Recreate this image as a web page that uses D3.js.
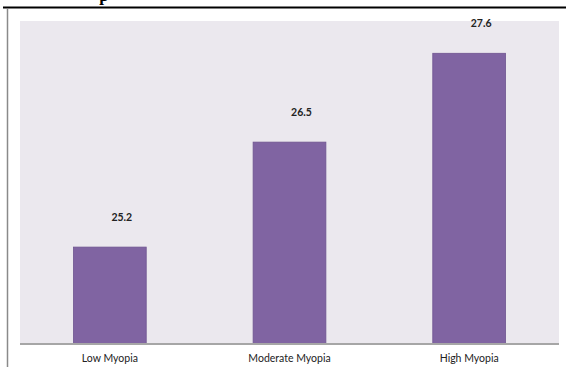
<!DOCTYPE html>
<html>
<head>
<meta charset="utf-8">
<script src="https://cdn.jsdelivr.net/npm/d3@7"></script>
<style>
  html, body { margin: 0; padding: 0; background: #fff; }
  svg { display: block; }
</style>
</head>
<body>
<svg id="chart" width="566" height="367"></svg>
<script>
const categories = ["Low Myopia", "Moderate Myopia", "High Myopia"];
const values = [25.2, 26.5, 27.6];
const valueLabels = ["25.2", "26.5", "27.6"];
const yDomain = [24, 28];
const titleFragment = "p";

const W = 566, H = 367;
const plot = { left: 20, right: 559, top: 21, bottom: 344 };

const svg = d3.select("#chart");

// page furniture: top rule, title descender, left rule
svg.append("text")
  .attr("x", 104).attr("y", 1)
  .attr("text-anchor", "middle")
  .attr("font-family", "Liberation Serif, serif")
  .attr("font-weight", "bold")
  .attr("font-size", 17)
  .attr("fill", "#000")
  .text(titleFragment);

svg.append("line")
  .attr("x1", 3).attr("x2", W).attr("y1", 7.5).attr("y2", 7.5)
  .attr("stroke", "#000").attr("stroke-width", 2);

svg.append("line")
  .attr("x1", 7.5).attr("x2", 7.5).attr("y1", 9).attr("y2", H)
  .attr("stroke", "#8a8a8a").attr("stroke-width", 1.5);

// plot background
svg.append("rect")
  .attr("x", plot.left).attr("y", plot.top)
  .attr("width", plot.right - plot.left)
  .attr("height", plot.bottom - plot.top)
  .attr("fill", "#ebe8ee");

const x = d3.scaleBand()
  .domain(categories)
  .range([plot.left, plot.right])
  .paddingInner(0.595)
  .paddingOuter(0.2975);

const y = d3.scaleLinear()
  .domain(yDomain)
  .range([plot.bottom, plot.top]);

const data = categories.map((c, i) => ({ c, v: values[i], label: valueLabels[i] }));

svg.append("g").selectAll("rect")
  .data(data)
  .join("rect")
  .attr("x", d => x(d.c))
  .attr("y", d => y(d.v))
  .attr("width", x.bandwidth())
  .attr("height", d => y(yDomain[0]) - y(d.v))
  .attr("fill", "#8064a2")
  .attr("stroke", "#6f5590")
  .attr("stroke-width", 0.8);

svg.append("g").selectAll("text")
  .data(data)
  .join("text")
  .attr("x", d => x(d.c) + x.bandwidth() / 2 + 12)
  .attr("y", d => y(d.v) - 26)
  .attr("text-anchor", "middle")
  .attr("font-family", "Lato, 'Open Sans', sans-serif")
  .attr("font-weight", "bold")
  .attr("font-size", 10.5)
  .attr("fill", "#222")
  .text(d => d.label);

// x axis
const xAxis = d3.axisBottom(x).tickSize(0).tickPadding(11);
const gx = svg.append("g")
  .attr("transform", `translate(0,${plot.bottom})`)
  .call(xAxis);
gx.select(".domain")
  .attr("stroke", "#a6a6a6")
  .attr("stroke-width", 2)
  .attr("d", `M${plot.left},0H${plot.right}`);
gx.selectAll("text")
  .attr("font-family", "Lato, 'Open Sans', sans-serif")
  .attr("font-size", 10.5)
  .attr("fill", "#222");
</script>
</body>
</html>
